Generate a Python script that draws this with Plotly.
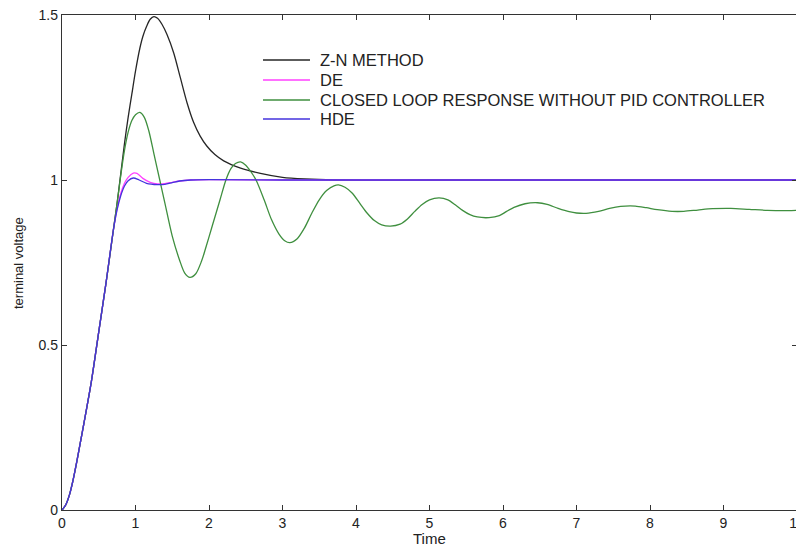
import plotly.graph_objects as go

# ---- data ----
t_zn = [0, 0.05, 0.1, 0.15, 0.2, 0.25, 0.3, 0.4, 0.5, 0.6, 0.7, 0.75, 0.8, 0.85, 0.9, 0.95,
        1.0, 1.06, 1.1, 1.15, 1.2, 1.25, 1.3, 1.36, 1.43, 1.52, 1.61, 1.70, 1.79, 1.88, 1.97,
        2.08, 2.2, 2.43, 2.7, 3.0, 3.3, 3.7, 5, 7, 10]
v_zn = [0, 0.015, 0.045, 0.09, 0.145, 0.205, 0.265, 0.39, 0.54, 0.69, 0.85, 0.93, 1.02, 1.11,
        1.19, 1.26, 1.33, 1.40, 1.435, 1.465, 1.487, 1.495, 1.49, 1.472, 1.44, 1.385, 1.31, 1.235,
        1.175, 1.133, 1.103, 1.077, 1.058, 1.036, 1.02, 1.008, 1.003, 1.0, 1.0, 1.0, 1.0]

t_de = [0, 0.05, 0.1, 0.15, 0.2, 0.25, 0.3, 0.4, 0.5, 0.6, 0.7, 0.75, 0.8, 0.85, 0.9, 0.97,
        1.02, 1.1, 1.2, 1.3, 1.4, 1.5, 1.6, 1.75, 2.0, 3.0, 5.0, 7.0, 10.0]
v_de = [0, 0.015, 0.045, 0.09, 0.145, 0.205, 0.265, 0.39, 0.54, 0.69, 0.85, 0.915, 0.96, 0.99,
        1.008, 1.021, 1.02, 1.005, 0.993, 0.988, 0.989, 0.993, 0.997, 1.0, 1.001, 1.0, 1.0, 1.0, 1.0]

t_cl = [0, 0.05, 0.1, 0.15, 0.2, 0.25, 0.3, 0.4, 0.5, 0.6, 0.7, 0.75, 0.8, 0.85, 0.9, 0.95,
        1.0, 1.06, 1.12, 1.18, 1.25, 1.33, 1.4, 1.5, 1.6, 1.67, 1.74, 1.82, 1.9, 1.95, 2.05,
        2.15, 2.23, 2.3, 2.36, 2.43, 2.5, 2.57, 2.64, 2.75, 2.85, 2.95, 3.03, 3.1, 3.2, 3.3,
        3.4, 3.5, 3.6, 3.7, 3.76, 3.85, 3.95, 4.05, 4.15, 4.25, 4.35, 4.47, 4.6, 4.7, 4.8,
        4.9, 5.0, 5.13, 5.25, 5.35, 5.45, 5.55, 5.65, 5.81, 5.95, 6.05, 6.15, 6.3, 6.47, 6.6,
        6.75, 6.9, 7.0, 7.13, 7.3, 7.45, 7.6, 7.8, 7.95, 8.1, 8.3, 8.46, 8.65, 8.85, 9.1,
        9.35, 9.6, 9.8, 10.0]
v_cl = [0, 0.015, 0.045, 0.09, 0.145, 0.205, 0.265, 0.39, 0.54, 0.69, 0.85, 0.93, 1.015, 1.09,
        1.145, 1.18, 1.198, 1.205, 1.19, 1.15, 1.08, 1.0, 0.93, 0.83, 0.757, 0.718, 0.705, 0.716,
        0.755, 0.79, 0.865, 0.94, 1.0, 1.035, 1.05, 1.055, 1.045, 1.025, 1.0, 0.94, 0.88, 0.837,
        0.816, 0.81, 0.822, 0.855, 0.9, 0.94, 0.968, 0.982, 0.985, 0.978, 0.96, 0.93, 0.9,
        0.877, 0.864, 0.86, 0.866, 0.882, 0.905, 0.926, 0.94, 0.946, 0.94, 0.925, 0.908, 0.895,
        0.888, 0.886, 0.892, 0.905, 0.917, 0.928, 0.931, 0.926, 0.914, 0.904, 0.9, 0.899,
        0.905, 0.914, 0.92, 0.921, 0.916, 0.91, 0.905, 0.905, 0.909, 0.913, 0.914, 0.911,
        0.908, 0.907, 0.908]

t_hde = [0, 0.05, 0.1, 0.15, 0.2, 0.25, 0.3, 0.4, 0.5, 0.6, 0.7, 0.75, 0.8, 0.85, 0.9, 0.97,
         1.05, 1.15, 1.3, 1.4, 1.5, 1.6, 1.75, 2.0, 3.0, 5.0, 7.0, 10.0]
v_hde = [0, 0.015, 0.045, 0.09, 0.145, 0.205, 0.265, 0.39, 0.54, 0.69, 0.85, 0.91, 0.953, 0.982,
         0.998, 1.006, 1.0, 0.99, 0.986, 0.987, 0.992, 0.997, 1.0, 1.001, 1.0, 1.0, 1.0, 1.0]

series_names = ["Z-N METHOD", "DE", "CLOSED LOOP RESPONSE WITHOUT PID CONTROLLER", "HDE"]
series_colors = ["#262626", "#ff40ff", "#3f8f3f", "#4433dd"]

x_ticks = [0, 1, 2, 3, 4, 5, 6, 7, 8, 9, 10]
y_ticks = [0, 0.5, 1, 1.5]
y_tick_text = ["0", "0.5", "1", "1.5"]

FONT = "Liberation Sans, Arial, sans-serif"

# page geometry: the page body has an 8px margin, so the figure is offset by 8px
OFF = 8
W, H = 804 - OFF, 546 - OFF
PLOT_L, PLOT_R, PLOT_T, PLOT_B = 62, 797, 15, 510  # page pixels of the plot frame
ML, MT = PLOT_L - OFF, PLOT_T - OFF
MR = W - (PLOT_R - OFF)
MB = H - (PLOT_B - OFF)
PW, PH = W - ML - MR, H - MT - MB


def px_x(p):
    return (p - PLOT_L) / PW


def px_y(p):
    return (PLOT_B - p) / PH


fig = go.Figure()
for t, v, name, col in zip([t_zn, t_de, t_cl, t_hde], [v_zn, v_de, v_cl, v_hde],
                           series_names, series_colors):
    fig.add_trace(go.Scatter(x=t, y=v, mode="lines", name=name, showlegend=False,
                             line=dict(color=col, width=1.3, shape="spline", smoothing=0.8)))

# legend drawn as line samples + text (no box, as in the reference)
legend_rows_px = [60, 80, 100, 119]
for name, col, ypx in zip(series_names, series_colors, legend_rows_px):
    fig.add_shape(type="line", xref="paper", yref="paper",
                  x0=px_x(263), x1=px_x(310), y0=px_y(ypx), y1=px_y(ypx),
                  line=dict(color=col, width=1.3))
    fig.add_annotation(xref="paper", yref="paper", x=px_x(318), y=px_y(ypx),
                       xanchor="left", yanchor="middle", text=name, showarrow=False,
                       font=dict(size=16.5, color="#222222", family=FONT))

axis_common = dict(showgrid=False, zeroline=False, showline=True, linecolor="#333333",
                   linewidth=1.3, mirror="ticks", ticks="inside", ticklen=5,
                   tickcolor="#333333", tickwidth=1.2, automargin=False,
                   ticklabeloverflow="allow")

fig.update_layout(
    width=W, height=H,
    margin=dict(l=ML, r=MR, t=MT, b=MB),
    paper_bgcolor="white", plot_bgcolor="white",
    font=dict(family=FONT, color="#222222"),
    xaxis=dict(range=[0, 10], tickvals=x_ticks, tickfont=dict(size=14), **axis_common),
    yaxis=dict(range=[0, 1.5], tickvals=y_ticks, ticktext=y_tick_text, tickfont=dict(size=14),
               **axis_common),
    showlegend=False,
)

fig.add_annotation(xref="paper", yref="paper", x=px_x(429), y=px_y(538), text="Time",
                   showarrow=False, xanchor="center", yanchor="middle",
                   font=dict(size=15, color="#222222", family=FONT))
fig.add_annotation(xref="paper", yref="paper", x=px_x(18), y=px_y(263), text="terminal voltage",
                   showarrow=False, textangle=-90, xanchor="center", yanchor="middle",
                   font=dict(size=13, color="#222222", family=FONT))

fig.write_html("out.html")
